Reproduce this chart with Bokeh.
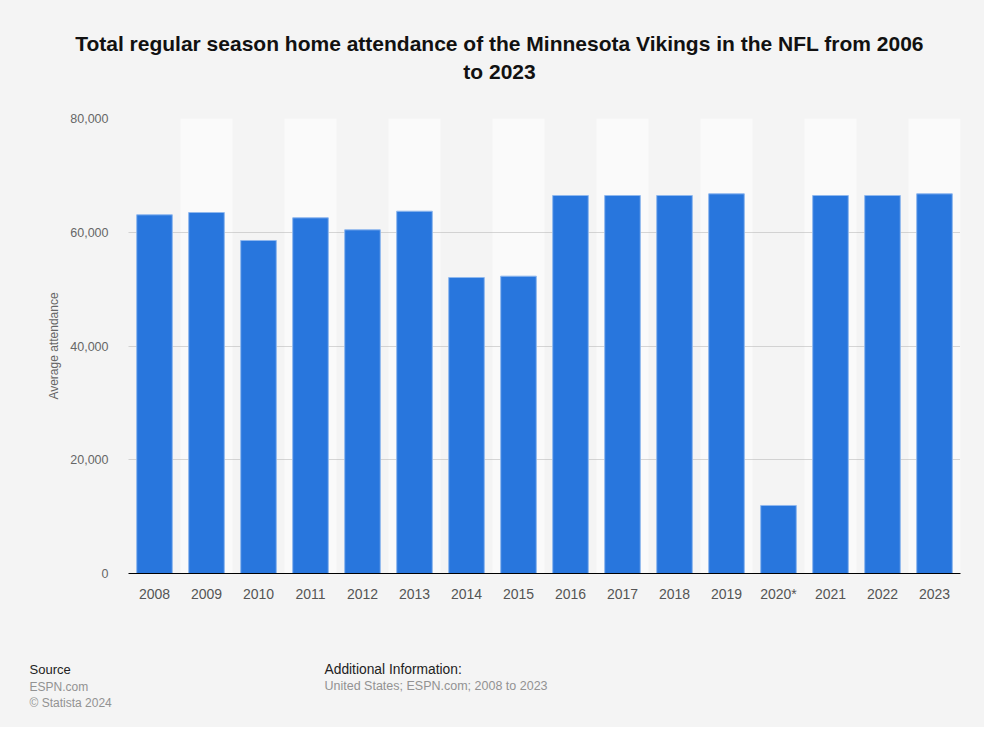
from bokeh.plotting import figure
from bokeh.layouts import column
from bokeh.models import FactorRange, NumeralTickFormatter, Range1d
from bokeh.core.properties import value
from bokeh.embed import file_html
from bokeh.resources import INLINE

years = ["2008", "2009", "2010", "2011", "2012", "2013", "2014", "2015",
         "2016", "2017", "2018", "2019", "2020*", "2021", "2022", "2023"]
attendance = [63070, 63470, 58550, 62540, 60430, 63700, 52040, 52280,
              66460, 66460, 66460, 66760, 11960, 66460, 66460, 66760]
y_max = 80000
y_ticks = [0, 20000, 40000, 60000, 80000]

title_lines = ["Total regular season home attendance of the Minnesota Vikings in the NFL from 2006",
               "to 2023"]
source_lines = ["Source", "ESPN.com", "\u00a9 Statista 2024"]
info_lines = ["Additional Information:", "United States; ESPN.com; 2008 to 2023"]

FONT = "Liberation Sans"
BG = "#f4f4f4"
W = 984
H_TOP = 108          # title strip
H_MAIN = 510         # chart strip
H_BOT = 727 - H_TOP - H_MAIN


def text_strip(h):
    f = figure(width=W, height=h, x_range=Range1d(0, W), y_range=Range1d(h, 0),
               output_backend="svg", toolbar_location=None, frame_align=False,
               min_border=0, min_border_left=0, min_border_right=0,
               min_border_top=0, min_border_bottom=0,
               styles={"background-color": BG})
    f.axis.visible = False
    f.grid.visible = False
    f.outline_line_color = None
    f.background_fill_color = BG
    f.border_fill_color = BG
    return f


# ---- title strip
t = text_strip(H_TOP)
t.text(x=[499, 499], y=[42.7, 70.7], text=title_lines, text_font=value(FONT),
       text_font_size="21px", text_font_style="bold", text_color="#111111",
       text_align="center", text_baseline="alphabetic")

# ---- main chart
p = figure(x_range=FactorRange(factors=years, range_padding=0),
           y_range=Range1d(0, y_max), frame_align=False,
           width=W, height=H_MAIN, output_backend="svg", toolbar_location=None,
           min_border_left=128, min_border_right=W - 960,
           min_border_top=118 - H_TOP, min_border_bottom=H_MAIN - (573 - H_TOP),
           styles={"background-color": BG})
p.background_fill_color = BG
p.border_fill_color = BG
p.outline_line_color = None

band_x = years[1::2]
p.vbar(x=band_x, top=[y_max] * len(band_x), width=1.0, fill_color="#fafafa",
       line_color=None, level="underlay")

p.vbar(x=years, top=attendance, width=0.685, fill_color="#2876dd",
       line_color="#8fb8ee", line_width=1)

p.xgrid.grid_line_color = None
p.ygrid.grid_line_color = "#b0b0b0"
p.ygrid.grid_line_dash = "1 1"
p.ygrid.grid_line_width = 1

p.yaxis.ticker = y_ticks
p.yaxis.formatter = NumeralTickFormatter(format="0,0")
p.yaxis.axis_line_color = None
p.yaxis.major_tick_line_color = None
p.yaxis.minor_tick_line_color = None
p.yaxis.major_tick_out = 0
p.yaxis.major_tick_in = 0
p.yaxis.minor_tick_out = 0
p.yaxis.major_label_text_font = FONT
p.yaxis.major_label_text_font_size = "12.5px"
p.yaxis.major_label_text_color = "#666666"
p.yaxis.major_label_standoff = 20
p.yaxis.axis_label = "Average attendance"
p.yaxis.axis_label_text_font = FONT
p.yaxis.axis_label_text_font_size = "12px"
p.yaxis.axis_label_text_font_style = "normal"
p.yaxis.axis_label_text_color = "#666666"
p.yaxis.axis_label_standoff = 6

p.xaxis.axis_line_color = "#000000"
p.xaxis.axis_line_width = 1
p.xaxis.major_tick_line_color = None
p.xaxis.minor_tick_line_color = None
p.xaxis.major_tick_out = 0
p.xaxis.major_tick_in = 0
p.xaxis.major_label_text_font = FONT
p.xaxis.major_label_text_font_size = "14px"
p.xaxis.major_label_text_color = "#555555"
p.xaxis.major_label_standoff = 12

# ---- footer strip
f = text_strip(H_BOT)
off = H_TOP + H_MAIN
f.text(x=[29], y=[669.3 - off], text=source_lines[:1], text_font=value(FONT),
       text_font_size="13px", text_color="#222222", text_baseline="alphabetic")
f.text(x=[29, 29], y=[686 - off, 702.7 - off], text=source_lines[1:], text_font=value(FONT),
       text_font_size="12px", text_color="#929292", text_baseline="alphabetic")
f.text(x=[324], y=[669.3 - off], text=info_lines[:1], text_font=value(FONT),
       text_font_size="13.8px", text_color="#222222", text_baseline="alphabetic")
f.text(x=[324], y=[685.7 - off], text=info_lines[1:], text_font=value(FONT),
       text_font_size="12.5px", text_color="#929292", text_baseline="alphabetic")

layout = column(t, p, f, spacing=0, styles={"background-color": BG})
html = file_html(layout, INLINE)
html = html.replace("<body>", '<body style="background:#f4f4f4">', 1)
open("out.html", "w").write(html)
